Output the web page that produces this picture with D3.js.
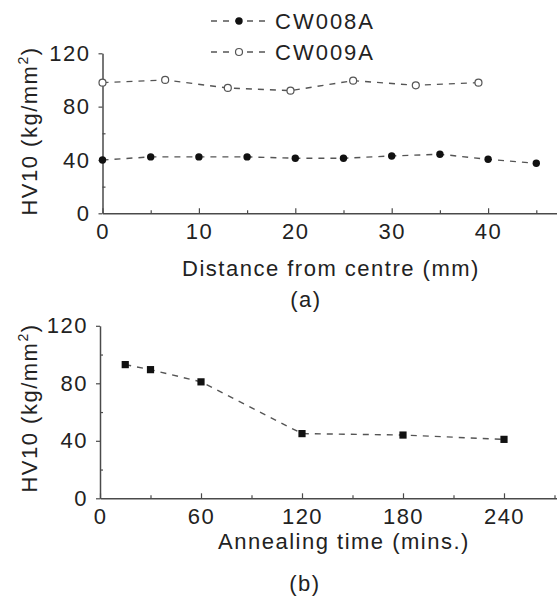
<!DOCTYPE html>
<html>
<head>
<meta charset="utf-8">
<script src="https://cdn.jsdelivr.net/npm/d3@7"></script>
<style>
  html, body { margin: 0; padding: 0; background: #fff; }
  svg { display: block; }
  text { font-family: "Liberation Sans", Arial, sans-serif; fill: #222; }
</style>
</head>
<body>
<svg id="chart" width="557" height="598"></svg>
<script>
// Panel (a): hardness profile across the section
const distCW008A = [0, 5, 10, 15, 20, 25, 30, 35, 40, 45];
const hvCW008A   = [40, 42.3, 42.3, 42.3, 41.3, 41.3, 43, 44.3, 40.5, 37.5];
const distCW009A = [0, 6.5, 13, 19.5, 26, 32.5, 39];
const hvCW009A   = [98, 100, 94, 92, 99.5, 96, 98];
const seriesNames = ["CW008A", "CW009A"];

// Panel (b): hardness versus annealing time
const annealTime = [15, 30, 60, 120, 180, 240];
const hvAnneal   = [93, 89.5, 81, 45, 44, 41];

// Tick labels
const hvTicks      = [0, 40, 80, 120];
const hvMinor      = [20, 60, 100];
const distTicks    = [0, 10, 20, 30, 40];
const distMinor    = [5, 15, 25, 35, 45];
const timeTicks    = [0, 60, 120, 180, 240];
const timeMinor    = [30, 90, 150, 210, 270];

const svg = d3.select("#chart");
const ink = "#4a4a4a";
const fontSize = 22;
const spacing = "1.5px";

function styleAxis(g) {
  g.select(".domain").attr("stroke", ink).attr("stroke-width", 1.5);
  g.selectAll(".tick line").attr("stroke", ink).attr("stroke-width", 1.2);
  g.selectAll(".tick text")
    .attr("font-size", fontSize)
    .attr("letter-spacing", spacing)
    .attr("fill", "#222")
    .attr("font-family", "Liberation Sans, Arial, sans-serif");
}

function drawPanel(cfg) {
  const { x, y, xTicks, xMinor, xLabel, xLabelPos, panelLabel, panelPos, yTitlePos } = cfg;
  const y0 = y(0), x0 = x(0);

  // x axis: major ticks point inward
  svg.append("g")
    .attr("transform", `translate(0,${y0})`)
    .call(d3.axisBottom(x).tickValues(xTicks).tickFormat(d3.format("d"))
      .tickSizeInner(-5).tickSizeOuter(0).tickPadding(10))
    .call(styleAxis);
  svg.append("g")
    .attr("transform", `translate(0,${y0})`)
    .call(d3.axisBottom(x).tickValues(xMinor).tickFormat("")
      .tickSizeInner(-3).tickSizeOuter(0))
    .call(g => { g.select(".domain").remove(); styleAxis(g); });

  // y axis
  svg.append("g")
    .attr("transform", `translate(${x0},0)`)
    .call(d3.axisLeft(y).tickValues(hvTicks).tickFormat(d3.format("d"))
      .tickSizeInner(4).tickSizeOuter(0).tickPadding(8))
    .call(styleAxis);
  svg.append("g")
    .attr("transform", `translate(${x0},0)`)
    .call(d3.axisLeft(y).tickValues(hvMinor).tickFormat("")
      .tickSizeInner(-3).tickSizeOuter(0))
    .call(g => { g.select(".domain").remove(); styleAxis(g); });

  // y axis title
  const yt = svg.append("text")
    .attr("transform", `translate(${yTitlePos[0]},${yTitlePos[1]}) rotate(-90)`)
    .attr("text-anchor", "middle")
    .attr("font-size", fontSize)
    .attr("letter-spacing", spacing);
  yt.append("tspan").text("HV10 (kg/mm");
  yt.append("tspan").attr("font-size", 14).attr("dy", -9).text("2");
  yt.append("tspan").attr("dy", 9).text(")");

  // x axis title and panel tag
  svg.append("text")
    .attr("x", xLabelPos[0]).attr("y", xLabelPos[1])
    .attr("text-anchor", "middle")
    .attr("font-size", fontSize)
    .attr("letter-spacing", spacing)
    .text(xLabel);
  svg.append("text")
    .attr("x", panelPos[0]).attr("y", panelPos[1])
    .attr("text-anchor", "middle")
    .attr("font-size", fontSize)
    .attr("letter-spacing", spacing)
    .text(panelLabel);
}

const dashed = { stroke: "#555", width: 1.4, dash: "6,6" };

// ---------- Panel (a) ----------
const xA = d3.scaleLinear().domain([0, 50]).range([102.5, 584.5]);
const yA = d3.scaleLinear().domain([0, 120]).range([213.3, 53.3]);

drawPanel({
  x: xA, y: yA, xTicks: distTicks, xMinor: distMinor,
  xLabel: "Distance from centre (mm)", xLabelPos: [331, 276],
  panelLabel: "(a)", panelPos: [306, 307], yTitlePos: [37, 131]
});

const lineA = d3.line().x(d => xA(d[0])).y(d => yA(d[1]));
const ptsA1 = distCW008A.map((d, i) => [d, hvCW008A[i]]);
const ptsA2 = distCW009A.map((d, i) => [d, hvCW009A[i]]);

[ptsA1, ptsA2].forEach(pts => {
  svg.append("path")
    .attr("d", lineA(pts))
    .attr("fill", "none")
    .attr("stroke", dashed.stroke)
    .attr("stroke-width", dashed.width)
    .attr("stroke-dasharray", dashed.dash);
});

svg.append("g").selectAll("circle").data(ptsA1).join("circle")
  .attr("cx", d => xA(d[0])).attr("cy", d => yA(d[1]))
  .attr("r", 3.7).attr("fill", "#111");
svg.append("g").selectAll("circle").data(ptsA2).join("circle")
  .attr("cx", d => xA(d[0])).attr("cy", d => yA(d[1]))
  .attr("r", 3.5).attr("fill", "#fff").attr("stroke", "#555").attr("stroke-width", 1.2);

// legend
const legend = svg.append("g");
seriesNames.forEach((name, i) => {
  const ly = 21 + i * 31;
  legend.append("line")
    .attr("x1", 211).attr("x2", 268).attr("y1", ly).attr("y2", ly)
    .attr("stroke", dashed.stroke).attr("stroke-width", dashed.width)
    .attr("stroke-dasharray", "6,6").attr("stroke-dashoffset", 0);
  if (i === 0) {
    legend.append("circle").attr("cx", 239).attr("cy", ly).attr("r", 3.7).attr("fill", "#111");
  } else {
    legend.append("circle").attr("cx", 239).attr("cy", ly).attr("r", 3.5)
      .attr("fill", "#fff").attr("stroke", "#555").attr("stroke-width", 1.2);
  }
  legend.append("text")
    .attr("x", 275).attr("y", ly + 8)
    .attr("font-size", fontSize)
    .attr("letter-spacing", "2px")
    .text(name);
});

// ---------- Panel (b) ----------
const xB = d3.scaleLinear().domain([0, 300]).range([100, 605]);
const yB = d3.scaleLinear().domain([0, 120]).range([498.3, 325.8]);

drawPanel({
  x: xB, y: yB, xTicks: timeTicks, xMinor: timeMinor,
  xLabel: "Annealing time (mins.)", xLabelPos: [344, 549],
  panelLabel: "(b)", panelPos: [305, 591], yTitlePos: [37, 408]
});

const ptsB = annealTime.map((d, i) => [d, hvAnneal[i]]);
const lineB = d3.line().x(d => xB(d[0])).y(d => yB(d[1]));
svg.append("path")
  .attr("d", lineB(ptsB))
  .attr("fill", "none")
  .attr("stroke", dashed.stroke)
  .attr("stroke-width", dashed.width)
  .attr("stroke-dasharray", dashed.dash);

svg.append("g").selectAll("rect").data(ptsB).join("rect")
  .attr("x", d => xB(d[0]) - 3.6).attr("y", d => yB(d[1]) - 3.6)
  .attr("width", 7.2).attr("height", 7.2).attr("fill", "#111");
</script>
</body>
</html>
